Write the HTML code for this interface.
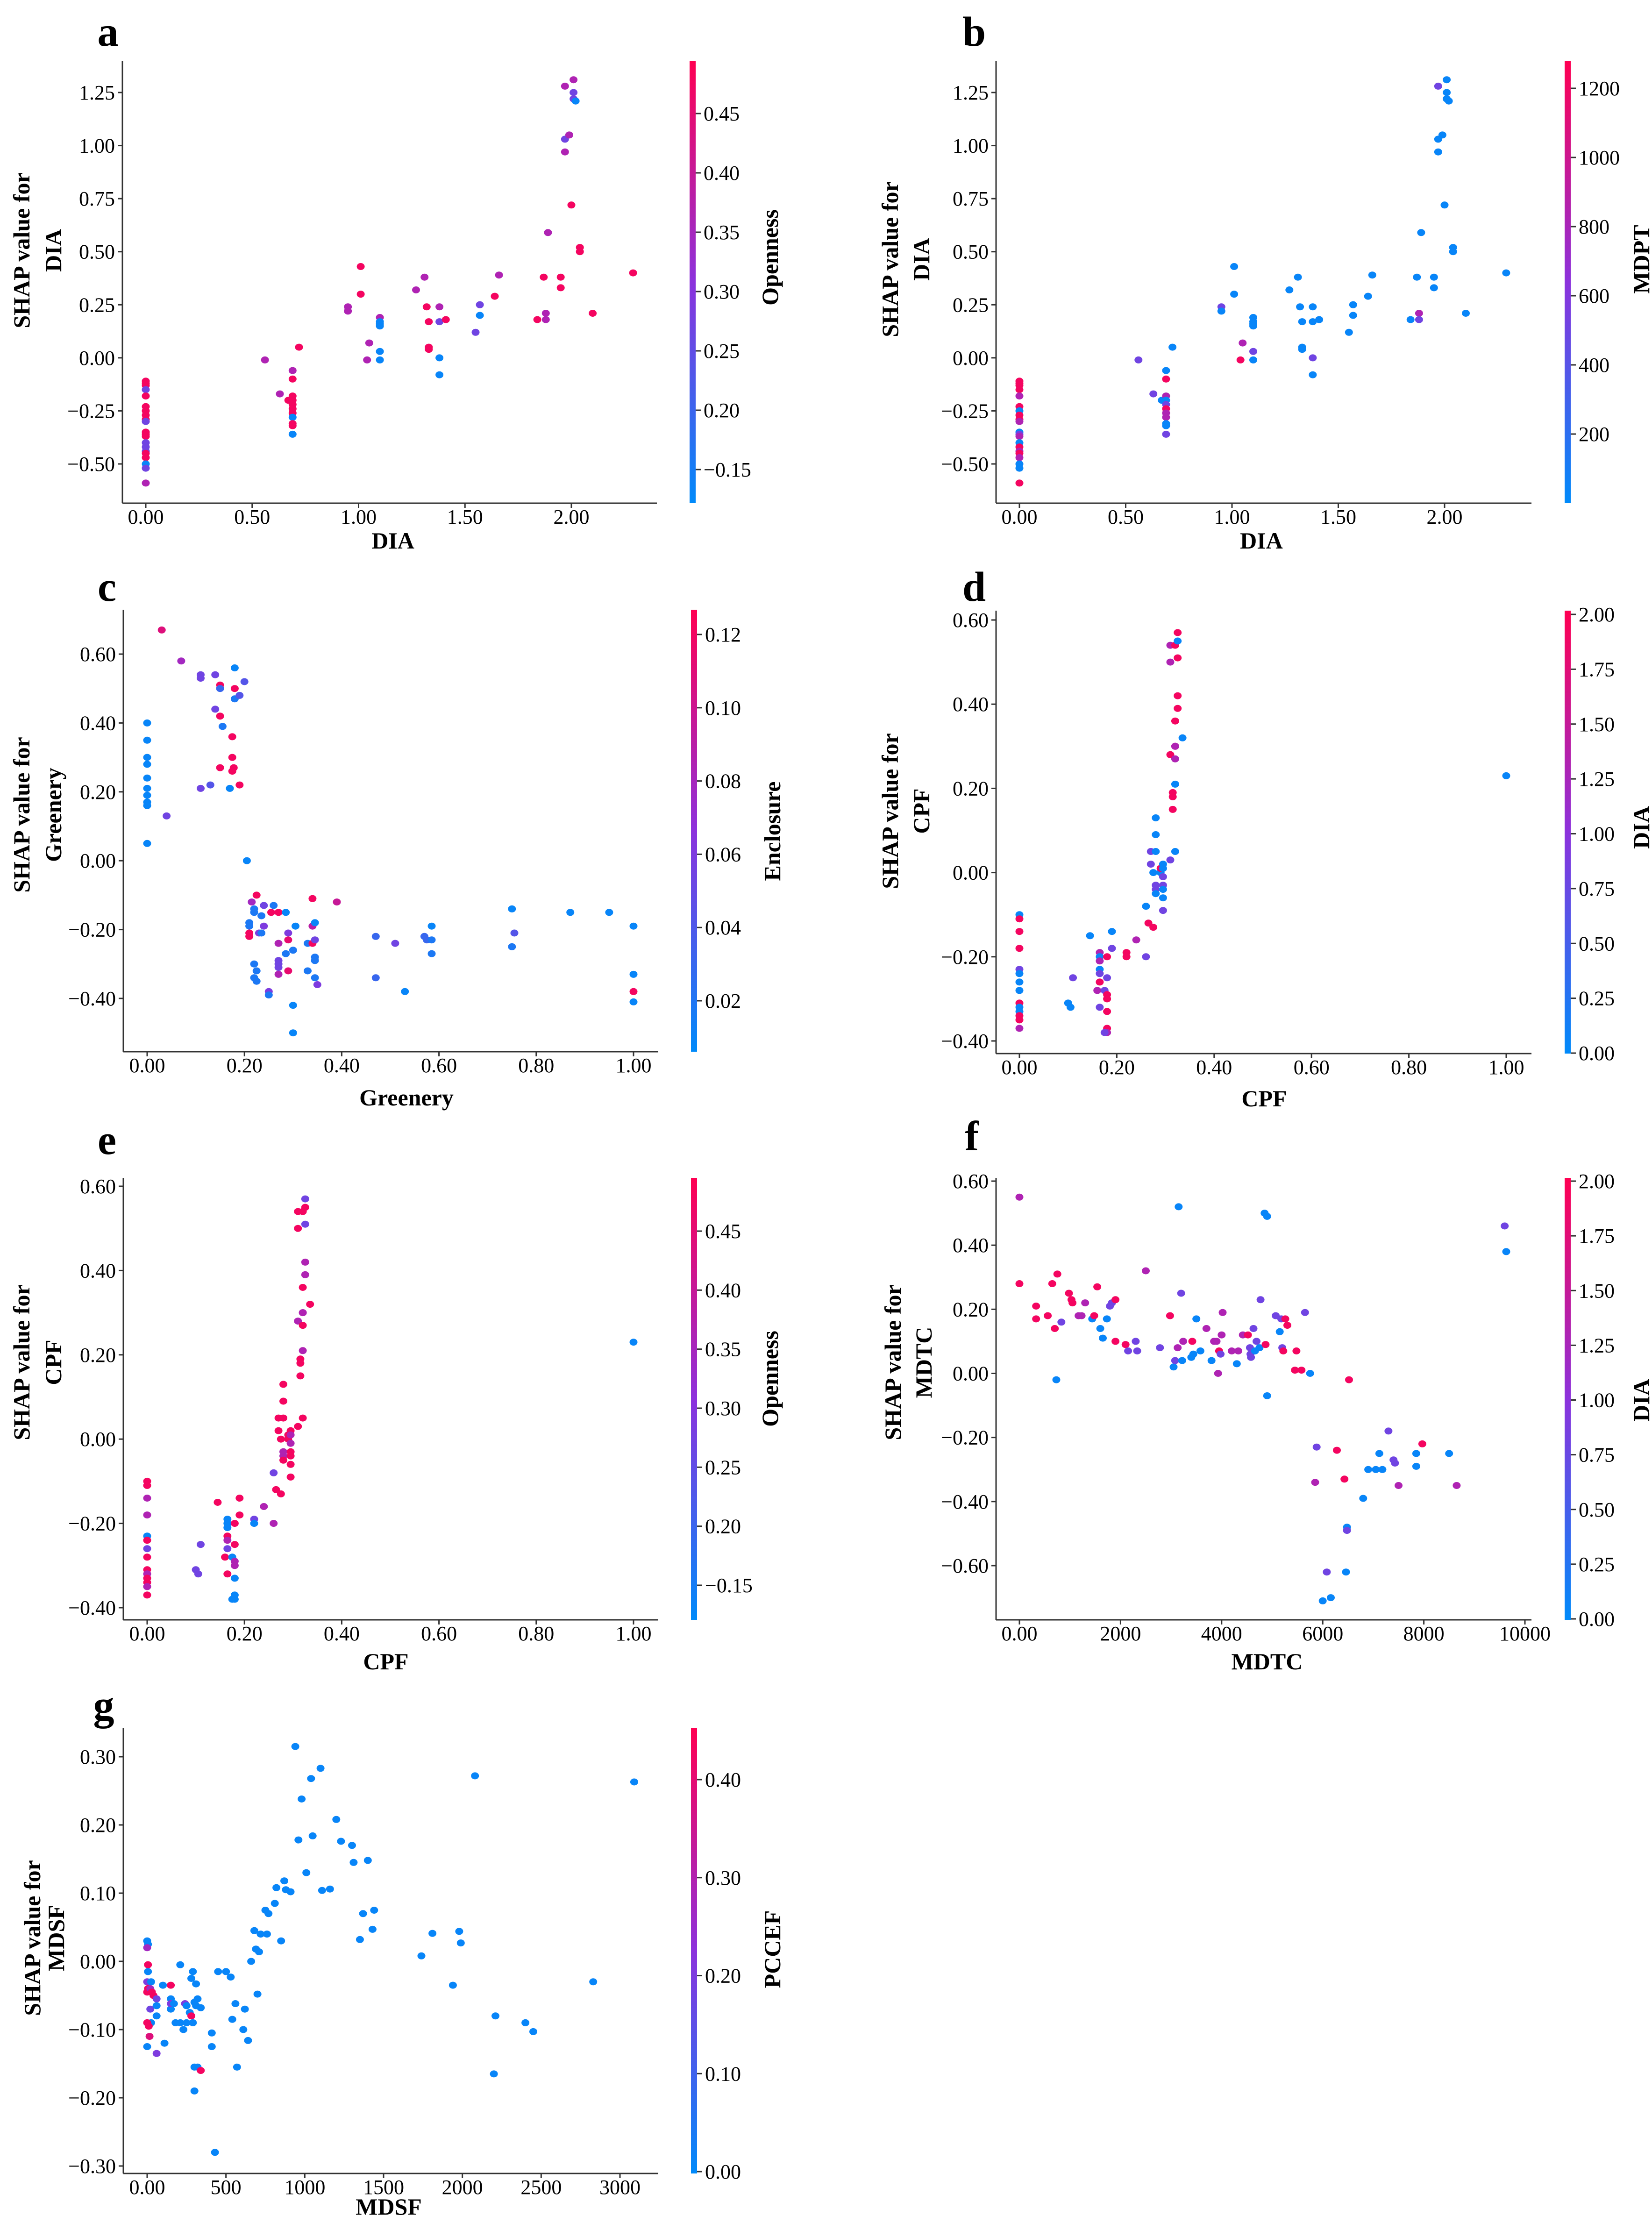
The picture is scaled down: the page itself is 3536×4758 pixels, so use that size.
<!DOCTYPE html>
<html><head><meta charset="utf-8">
<style>
html,body{margin:0;padding:0;background:#fff;}
svg{display:block;}
text{font-family:"Liberation Serif","DejaVu Serif",serif;fill:#000;}
.tk{font-size:44px;}
.lb{font-size:50px;font-weight:bold;}
.pl{font-size:90px;font-weight:bold;}
</style></head>
<body>
<svg id="fig" width="3536" height="4758" viewBox="0 0 3536 4758" xmlns="http://www.w3.org/2000/svg">
<defs>
<linearGradient id="cmap" x1="0" y1="1" x2="0" y2="0">
<stop offset="0" stop-color="rgb(0,138,250)"/>
<stop offset="0.5" stop-color="rgb(140,50,220)"/>
<stop offset="1" stop-color="rgb(255,0,82)"/>
</linearGradient>
</defs>
<g>
<text class="pl" x="231" y="98" text-anchor="middle">a</text>
<text class="pl" x="2085" y="98" text-anchor="middle">b</text>
<text class="pl" x="229" y="1286" text-anchor="middle">c</text>
<text class="pl" x="2085" y="1286" text-anchor="middle">d</text>
<text class="pl" x="229" y="2470" text-anchor="middle">e</text>
<text class="pl" x="2080" y="2462" text-anchor="middle">f</text>
<text class="pl" x="222" y="3680" text-anchor="middle">g</text>
</g>
<g>
<text class="lb" x="841" y="1174" text-anchor="middle">DIA</text>
<text class="lb" x="2700" y="1174" text-anchor="middle">DIA</text>
<text class="lb" x="870" y="2366" text-anchor="middle">Greenery</text>
<text class="lb" x="2706" y="2368" text-anchor="middle">CPF</text>
<text class="lb" x="826" y="3573" text-anchor="middle">CPF</text>
<text class="lb" x="2712" y="3573" text-anchor="middle">MDTC</text>
<text class="lb" x="832" y="4740" text-anchor="middle">MDSF</text>

<text class="lb" transform="translate(63,536) rotate(-90)" text-anchor="middle">SHAP value for</text>
<text class="lb" transform="translate(131,536) rotate(-90)" text-anchor="middle">DIA</text>
<text class="lb" transform="translate(1922,555) rotate(-90)" text-anchor="middle">SHAP value for</text>
<text class="lb" transform="translate(1989,555) rotate(-90)" text-anchor="middle">DIA</text>
<text class="lb" transform="translate(63,1744) rotate(-90)" text-anchor="middle">SHAP value for</text>
<text class="lb" transform="translate(131,1744) rotate(-90)" text-anchor="middle">Greenery</text>
<text class="lb" transform="translate(1922,1736) rotate(-90)" text-anchor="middle">SHAP value for</text>
<text class="lb" transform="translate(1989,1736) rotate(-90)" text-anchor="middle">CPF</text>
<text class="lb" transform="translate(63,2916) rotate(-90)" text-anchor="middle">SHAP value for</text>
<text class="lb" transform="translate(131,2916) rotate(-90)" text-anchor="middle">CPF</text>
<text class="lb" transform="translate(1928,2916) rotate(-90)" text-anchor="middle">SHAP value for</text>
<text class="lb" transform="translate(1994,2916) rotate(-90)" text-anchor="middle">MDTC</text>
<text class="lb" transform="translate(86,4148) rotate(-90)" text-anchor="middle">SHAP value for</text>
<text class="lb" transform="translate(137,4148) rotate(-90)" text-anchor="middle">MDSF</text>

<text class="lb" transform="translate(1665,551) rotate(-90)" text-anchor="middle">Openness</text>
<text class="lb" transform="translate(3530,555) rotate(-90)" text-anchor="middle">MDPT</text>
<text class="lb" transform="translate(1670,1779) rotate(-90)" text-anchor="middle">Enclosure</text>
<text class="lb" transform="translate(3530,1771) rotate(-90)" text-anchor="middle">DIA</text>
<text class="lb" transform="translate(1665,2951) rotate(-90)" text-anchor="middle">Openness</text>
<text class="lb" transform="translate(3530,2997) rotate(-90)" text-anchor="middle">DIA</text>
<text class="lb" transform="translate(1670,4172) rotate(-90)" text-anchor="middle">PCCEF</text>
</g>
<g id="plots"></g>
</svg>
<script>
// ---- panel a / b (DIA) ----
const abDIA = [0,0,0,0,0,0,0,0,0,0,0,0,0,0,0,0,0,0,0,0,0,0.56,0.63,0.67,0.69,0.69,0.69,0.69,0.69,0.69,0.69,0.69,0.69,0.69,0.69,0.72,0.95,0.95,1.01,1.01,1.04,1.05,1.10,1.10,1.10,1.10,1.10,1.10,1.27,1.31,1.32,1.33,1.33,1.33,1.38,1.38,1.38,1.38,1.41,1.55,1.57,1.57,1.64,1.66,1.84,1.87,1.88,1.88,1.89,1.95,1.95,1.97,1.97,1.97,1.99,2.00,2.01,2.01,2.01,2.02,2.04,2.04,2.10,2.29];
const abSHAP = [-0.11,-0.12,-0.13,-0.15,-0.18,-0.23,-0.25,-0.27,-0.29,-0.30,-0.35,-0.36,-0.37,-0.40,-0.42,-0.44,-0.45,-0.47,-0.50,-0.52,-0.59,-0.01,-0.17,-0.20,-0.06,-0.10,-0.18,-0.20,-0.22,-0.24,-0.26,-0.28,-0.31,-0.32,-0.36,0.05,0.24,0.22,0.43,0.30,-0.01,0.07,0.19,0.17,0.16,0.15,0.03,-0.01,0.32,0.38,0.24,0.17,0.05,0.04,0.24,0.17,0.00,-0.08,0.18,0.12,0.25,0.20,0.29,0.39,0.18,0.38,0.21,0.18,0.59,0.38,0.33,1.28,1.03,0.97,1.05,0.72,1.31,1.25,1.22,1.21,0.52,0.50,0.21,0.40];
const aOpenness = [0.95,0.95,0.95,0.4,0.95,0.95,0.95,0.95,0.95,0.4,0.95,0.95,0.95,0.4,0.4,0.4,0.95,0.95,0.03,0.4,0.65,0.65,0.65,0.95,0.65,0.95,0.95,0.95,0.95,0.95,0.95,0.03,0.95,0.95,0.03,0.95,0.65,0.65,0.95,0.95,0.65,0.65,0.65,0.03,0.03,0.03,0.03,0.03,0.65,0.65,0.95,0.95,0.95,0.95,0.65,0.4,0.03,0.03,0.95,0.4,0.4,0.03,0.95,0.65,0.95,0.95,0.65,0.65,0.65,0.95,0.95,0.65,0.4,0.65,0.65,0.95,0.65,0.4,0.4,0.03,0.95,0.95,0.95,0.95];
const bMDPT = [0.95,0.95,0.95,0.95,0.65,0.95,0.03,0.95,0.95,0.65,0.03,0.4,0.65,0.03,0.95,0.65,0.95,0.65,0.03,0.03,0.95,0.4,0.4,0.03,0.03,0.95,0.65,0.03,0.4,0.95,0.65,0.65,0.03,0.03,0.4,0.03,0.4,0.03,0.03,0.03,0.95,0.65,0.03,0.03,0.03,0.03,0.4,0.03,0.03,0.03,0.03,0.03,0.03,0.03,0.03,0.03,0.4,0.03,0.03,0.03,0.03,0.03,0.03,0.03,0.03,0.03,0.65,0.4,0.03,0.03,0.03,0.4,0.03,0.03,0.03,0.03,0.03,0.03,0.03,0.03,0.03,0.03,0.03,0.03];
// ---- panel c (Greenery) ----
const cGreenery = [0,0,0,0,0,0,0,0,0,0,0.03,0.04,0.07,0.11,0.11,0.11,0.13,0.14,0.14,0.15,0.15,0.15,0.15,0.155,0.17,0.175,0.175,0.175,0.178,0.18,0.18,0.18,0.19,0.19,0.20,0.205,0.21,0.21,0.21,0.21,0.215,0.22,0.22,0.22,0.22,0.225,0.225,0.225,0.23,0.235,0.235,0.24,0.24,0.25,0.25,0.255,0.26,0.27,0.27,0.27,0.27,0.27,0.27,0.285,0.285,0.29,0.29,0.29,0.30,0.30,0.30,0.305,0.33,0.33,0.34,0.34,0.34,0.345,0.345,0.345,0.345,0.345,0.35,0.39,0.47,0.47,0.51,0.53,0.57,0.575,0.585,0.585,0.585,0.75,0.75,0.755,0.87,0.95,1.0,1.0,1.0,1.0];
const cSHAP = [0.40,0.35,0.30,0.28,0.24,0.21,0.19,0.17,0.16,0.05,0.67,0.13,0.58,0.54,0.53,0.21,0.22,0.54,0.44,0.51,0.50,0.42,0.27,0.39,0.21,0.36,0.30,0.26,0.27,0.56,0.50,0.47,0.48,0.22,0.52,0.00,-0.19,-0.18,-0.21,-0.22,-0.12,-0.15,-0.14,-0.30,-0.34,-0.32,-0.35,-0.10,-0.21,-0.16,-0.21,-0.13,-0.19,-0.38,-0.39,-0.15,-0.13,-0.15,-0.24,-0.29,-0.30,-0.31,-0.33,-0.15,-0.27,-0.21,-0.23,-0.32,-0.26,-0.42,-0.50,-0.19,-0.24,-0.32,-0.11,-0.19,-0.24,-0.18,-0.23,-0.28,-0.29,-0.34,-0.36,-0.12,-0.22,-0.34,-0.24,-0.38,-0.22,-0.23,-0.19,-0.23,-0.27,-0.14,-0.25,-0.21,-0.15,-0.15,-0.19,-0.33,-0.38,-0.41];
const cEnclosure = [0.03,0.03,0.03,0.03,0.03,0.03,0.03,0.03,0.03,0.03,0.85,0.4,0.6,0.4,0.4,0.4,0.3,0.4,0.4,0.95,0.2,0.95,0.95,0.1,0.03,0.95,0.95,0.95,0.95,0.03,0.95,0.1,0.3,0.95,0.3,0.03,0.1,0.1,0.95,0.95,0.6,0.1,0.1,0.1,0.1,0.1,0.1,0.95,0.45,0.1,0.1,0.4,0.45,0.45,0.1,0.95,0.1,0.95,0.65,0.4,0.4,0.4,0.65,0.03,0.1,0.45,0.9,0.9,0.1,0.03,0.03,0.03,0.1,0.1,0.95,0.7,0.95,0.03,0.4,0.1,0.1,0.1,0.45,0.75,0.2,0.2,0.4,0.03,0.2,0.2,0.03,0.1,0.1,0.03,0.1,0.3,0.03,0.03,0.03,0.03,0.95,0.03];
// ---- panels d / e (CPF) ----
const deCPF = [0,0,0,0,0,0,0,0,0,0,0,0,0,0,0.10,0.105,0.11,0.145,0.16,0.165,0.165,0.165,0.165,0.165,0.165,0.165,0.175,0.18,0.18,0.18,0.18,0.18,0.18,0.18,0.175,0.19,0.19,0.22,0.22,0.24,0.26,0.26,0.265,0.27,0.27,0.275,0.275,0.28,0.28,0.28,0.28,0.28,0.28,0.29,0.29,0.295,0.295,0.295,0.295,0.295,0.295,0.295,0.31,0.31,0.31,0.31,0.315,0.315,0.315,0.32,0.32,0.32,0.32,0.32,0.32,0.32,0.325,0.325,0.325,0.325,0.325,0.335,1.0];
const deSHAP = [-0.10,-0.11,-0.14,-0.18,-0.23,-0.24,-0.26,-0.28,-0.31,-0.32,-0.33,-0.34,-0.35,-0.37,-0.31,-0.32,-0.25,-0.15,-0.28,-0.19,-0.20,-0.21,-0.23,-0.24,-0.26,-0.32,-0.28,-0.20,-0.25,-0.29,-0.30,-0.33,-0.37,-0.38,-0.38,-0.14,-0.18,-0.19,-0.20,-0.16,-0.08,-0.20,-0.12,0.05,0.02,-0.13,0.00,0.13,0.09,0.05,-0.04,-0.05,-0.03,0.00,0.01,0.02,0.01,-0.01,-0.03,-0.04,-0.06,-0.09,0.54,0.50,0.28,0.03,0.18,0.15,0.19,0.54,0.36,0.30,0.30,0.27,0.21,0.05,0.57,0.55,0.51,0.42,0.39,0.32,0.23];
const dDIA = [0.03,0.95,0.95,0.95,0.4,0.03,0.03,0.03,0.95,0.03,0.03,0.95,0.95,0.65,0.03,0.03,0.4,0.03,0.65,0.65,0.03,0.65,0.03,0.4,0.95,0.4,0.4,0.95,0.4,0.95,0.95,0.95,0.95,0.65,0.4,0.03,0.4,0.95,0.95,0.65,0.03,0.4,0.95,0.4,0.4,0.95,0.03,0.03,0.03,0.03,0.4,0.03,0.4,0.03,0.95,0.03,0.03,0.4,0.4,0.03,0.03,0.4,0.65,0.65,0.95,0.4,0.95,0.95,0.95,0.95,0.95,0.95,0.65,0.65,0.03,0.03,0.95,0.03,0.95,0.95,0.95,0.03,0.03];
const eOpenness = [0.95,0.95,0.65,0.65,0.03,0.95,0.4,0.95,0.95,0.65,0.95,0.95,0.65,0.95,0.4,0.4,0.4,0.95,0.95,0.03,0.03,0.03,0.95,0.65,0.4,0.95,0.03,0.95,0.95,0.65,0.65,0.03,0.03,0.03,0.03,0.95,0.95,0.4,0.03,0.65,0.4,0.65,0.95,0.95,0.95,0.95,0.95,0.95,0.95,0.95,0.65,0.95,0.65,0.95,0.95,0.95,0.65,0.65,0.95,0.95,0.95,0.95,0.95,0.95,0.65,0.95,0.95,0.95,0.95,0.95,0.95,0.65,0.65,0.95,0.65,0.95,0.4,0.95,0.4,0.65,0.65,0.95,0.03];
// ---- panel f (MDTC) ----
const fMDTC = [0,0,330,330,560,650,700,750,730,830,980,1030,1050,1170,1230,1300,1440,1480,1540,1600,1650,1730,1790,1830,1900,1900,2100,2150,2300,2330,2500,2780,2980,3050,3080,3130,3150,3200,3220,3240,3400,3420,3440,3500,3580,3700,3800,3850,3900,3930,3950,3980,4000,4020,4200,4300,4330,4420,4520,4560,4570,4580,4630,4660,4690,4750,4770,4850,4870,4900,4900,5070,5150,5180,5200,5220,5260,5300,5450,5480,5580,5650,5750,5850,5880,6000,6080,6160,6280,6430,6460,6480,6480,6520,6800,6900,7050,7120,7180,7300,7400,7430,7500,7850,7850,7970,8500,8650,9600,9630];
const fSHAP = [0.55,0.28,0.21,0.17,0.18,0.28,0.14,0.31,-0.02,0.16,0.25,0.23,0.22,0.18,0.18,0.22,0.17,0.18,0.27,0.14,0.11,0.17,0.21,0.22,0.23,0.10,0.09,0.07,0.10,0.07,0.32,0.08,0.18,0.02,0.04,0.08,0.52,0.25,0.04,0.10,0.05,0.10,0.06,0.17,0.07,0.14,0.04,0.10,0.10,0.00,0.07,0.06,0.12,0.19,0.07,0.03,0.07,0.12,0.12,0.08,0.06,0.05,0.14,0.07,0.10,0.08,0.23,0.50,0.09,0.49,-0.07,0.18,0.13,0.17,0.08,0.07,0.17,0.15,0.01,0.07,0.01,0.19,0.00,-0.34,-0.23,-0.71,-0.62,-0.70,-0.24,-0.33,-0.62,-0.48,-0.49,-0.02,-0.39,-0.30,-0.30,-0.25,-0.30,-0.18,-0.27,-0.28,-0.35,-0.25,-0.29,-0.22,-0.25,-0.35,0.46,0.38];
const fDIA = [0.65,0.95,0.95,0.95,0.95,0.95,0.95,0.95,0.03,0.4,0.95,0.95,0.95,0.65,0.65,0.65,0.03,0.95,0.95,0.03,0.03,0.03,0.4,0.4,0.95,0.95,0.95,0.4,0.4,0.4,0.65,0.4,0.95,0.03,0.4,0.65,0.03,0.4,0.03,0.65,0.03,0.95,0.03,0.03,0.03,0.65,0.03,0.65,0.65,0.65,0.95,0.4,0.65,0.65,0.65,0.03,0.65,0.65,0.95,0.4,0.4,0.4,0.4,0.03,0.4,0.03,0.4,0.03,0.95,0.03,0.03,0.4,0.03,0.4,0.4,0.95,0.95,0.95,0.95,0.95,0.95,0.4,0.03,0.65,0.4,0.03,0.4,0.03,0.95,0.95,0.03,0.03,0.4,0.95,0.03,0.03,0.03,0.03,0.03,0.4,0.4,0.4,0.65,0.03,0.03,0.95,0.03,0.65,0.4,0.03];
// ---- panel g (MDSF) ----
const gMDSF = [0,5,0,5,5,0,0,5,20,25,30,40,60,20,60,60,25,0,10,15,0,60,100,110,150,150,150,150,170,180,210,210,230,240,250,250,270,280,280,290,290,300,310,310,320,300,320,340,300,340,410,410,430,450,500,530,540,560,570,610,620,640,660,680,690,700,710,720,750,760,770,810,820,850,870,880,910,940,960,980,1010,1040,1050,1100,1110,1160,1200,1230,1300,1310,1350,1370,1400,1430,1440,1740,1810,1940,1980,1990,2080,2200,2210,2400,2450,2830,3090];
const gSHAP = [0.03,0.025,0.02,-0.005,-0.015,-0.03,-0.045,-0.04,-0.04,-0.03,-0.045,-0.05,-0.055,-0.07,-0.065,-0.08,-0.09,-0.09,-0.095,-0.11,-0.125,-0.135,-0.035,-0.12,-0.035,-0.055,-0.07,-0.062,-0.062,-0.09,-0.005,-0.09,-0.10,-0.062,-0.065,-0.09,-0.075,-0.08,-0.025,-0.015,-0.09,-0.06,-0.033,-0.065,-0.055,-0.155,-0.155,-0.16,-0.19,-0.068,-0.105,-0.125,-0.28,-0.015,-0.015,-0.023,-0.085,-0.062,-0.155,-0.10,-0.07,-0.116,0.00,0.045,0.018,-0.048,0.014,0.04,0.075,0.04,0.07,0.085,0.108,0.03,0.118,0.105,0.102,0.315,0.178,0.238,0.13,0.268,0.184,0.283,0.104,0.106,0.208,0.176,0.17,0.145,0.032,0.07,0.148,0.047,0.075,0.008,0.041,-0.035,0.044,0.027,0.272,-0.165,-0.08,-0.09,-0.103,-0.03,0.263];
const gPCCEF = [0.03,0.03,0.6,0.95,0.03,0.45,0.95,0.95,0.6,0.03,0.95,0.95,0.4,0.4,0.03,0.03,0.03,0.95,0.95,0.85,0.03,0.45,0.03,0.03,0.95,0.03,0.03,0.45,0.03,0.03,0.03,0.03,0.03,0.45,0.03,0.03,0.03,0.95,0.03,0.03,0.03,0.03,0.03,0.03,0.03,0.03,0.03,0.95,0.03,0.03,0.03,0.03,0.03,0.03,0.03,0.03,0.03,0.03,0.03,0.03,0.03,0.03,0.03,0.03,0.03,0.03,0.03,0.03,0.03,0.03,0.03,0.03,0.03,0.03,0.03,0.03,0.03,0.03,0.03,0.03,0.03,0.03,0.03,0.03,0.03,0.03,0.03,0.03,0.03,0.03,0.03,0.03,0.03,0.03,0.03,0.03,0.03,0.03,0.03,0.03,0.03,0.03,0.03,0.03,0.03,0.03,0.03];
// ---- tick values and labels ----
const abXTicks = [0,0.5,1,1.5,2];
const abXLabels = ["0.00","0.50","1.00","1.50","2.00"];
const abYTicks = [1.25,1,0.75,0.5,0.25,0,-0.25,-0.5];
const abYLabels = ["1.25","1.00","0.75","0.50","0.25","0.00","\u22120.25","\u22120.50"];
const unitXTicks = [0,0.2,0.4,0.6,0.8,1];
const unitXLabels = ["0.00","0.20","0.40","0.60","0.80","1.00"];
const cdeYTicks = [0.6,0.4,0.2,0,-0.2,-0.4];
const cdeYLabels = ["0.60","0.40","0.20","0.00","\u22120.20","\u22120.40"];
const fXTicks = [0,2000,4000,6000,8000,10000];
const fXLabels = ["0.00","2000","4000","6000","8000","10000"];
const fYTicks = [0.6,0.4,0.2,0,-0.2,-0.4,-0.6];
const fYLabels = ["0.60","0.40","0.20","0.00","\u22120.20","\u22120.40","\u22120.60"];
const gXTicks = [0,500,1000,1500,2000,2500,3000];
const gXLabels = ["0.00","500","1000","1500","2000","2500","3000"];
const gYTicks = [0.3,0.2,0.1,0,-0.1,-0.2,-0.3];
const gYLabels = ["0.30","0.20","0.10","0.00","\u22120.10","\u22120.20","\u22120.30"];
const opennessTicks = [0.45,0.40,0.35,0.30,0.25,0.20,0.15];
const opennessLabels = ["0.45","0.40","0.35","0.30","0.25","0.20","\u22120.15"];
const mdptTicks = [1200,1000,800,600,400,200];
const mdptLabels = ["1200","1000","800","600","400","200"];
const enclosureTicks = [0.12,0.10,0.08,0.06,0.04,0.02];
const enclosureLabels = ["0.12","0.10","0.08","0.06","0.04","0.02"];
const diaTicks = [2,1.75,1.5,1.25,1,0.75,0.5,0.25,0];
const diaLabels = ["2.00","1.75","1.50","1.25","1.00","0.75","0.50","0.25","0.00"];
const pccefTicks = [0.4,0.3,0.2,0.1,0];
const pccefLabels = ["0.40","0.30","0.20","0.10","0.00"];

const NS = "http://www.w3.org/2000/svg";
const root = document.getElementById('plots');
function mk(tag, attrs, parent){
  const e = document.createElementNS(NS, tag);
  for (const k in attrs) e.setAttribute(k, attrs[k]);
  parent.appendChild(e);
  return e;
}
function col(t){
  const s0=[0,138,250], s1=[140,50,220], s2=[255,0,82];
  let a,b,u;
  if (t<=0.5){a=s0;b=s1;u=t/0.5;} else {a=s1;b=s2;u=(t-0.5)/0.5;}
  return 'rgb('+a.map((v,i)=>Math.round(v+(b[i]-v)*u)).join(',')+')';
}
function lin(d0,d1,r0,r1){ return v => r0 + (v-d0)*(r1-r0)/(d1-d0); }

const panels = [
 {id:'a', xs:abDIA, ys:abSHAP, cs:aOpenness, L:262,R:1406,T:130,B:1077, sx:lin(0,2,312,1223), sy:lin(1.25,-0.5,198,993), xt:abXTicks, xl:abXLabels, yt:abYTicks, yl:abYLabels, cbx:1476, cby:lin(0.45,0.15,243,1005), ct:opennessTicks, cl:opennessLabels},
 {id:'b', xs:abDIA, ys:abSHAP, cs:bMDPT, L:2132,R:3278,T:130,B:1077, sx:lin(0,2,2182,3092), sy:lin(1.25,-0.5,198,993), xt:abXTicks, xl:abXLabels, yt:abYTicks, yl:abYLabels, cbx:3349, cby:lin(1200,200,189,929), ct:mdptTicks, cl:mdptLabels},
 {id:'c', xs:cGreenery, ys:cSHAP, cs:cEnclosure, L:264,R:1409,T:1305,B:2251, sx:lin(0,1,315,1356), sy:lin(0.6,-0.4,1400,2137), xt:unitXTicks, xl:unitXLabels, yt:cdeYTicks, yl:cdeYLabels, cbx:1479, cby:lin(0.12,0.02,1358,2142), ct:enclosureTicks, cl:enclosureLabels},
 {id:'d', xs:deCPF, ys:deSHAP, cs:dDIA, L:2132,R:3278,T:1307,B:2255, sx:lin(0,1,2182,3224), sy:lin(0.6,-0.4,1327,2228), xt:unitXTicks, xl:unitXLabels, yt:cdeYTicks, yl:cdeYLabels, cbx:3349, cby:lin(2,0,1315,2254), ct:diaTicks, cl:diaLabels},
 {id:'e', xs:deCPF, ys:deSHAP, cs:eOpenness, L:264,R:1409,T:2521,B:3467, sx:lin(0,1,315,1356), sy:lin(0.6,-0.4,2539,3441), xt:unitXTicks, xl:unitXLabels, yt:cdeYTicks, yl:cdeYLabels, cbx:1479, cby:lin(0.45,0.15,2635,3393), ct:opennessTicks, cl:opennessLabels},
 {id:'f', xs:fMDTC, ys:fSHAP, cs:fDIA, L:2132,R:3278,T:2521,B:3467, sx:lin(0,10000,2182,3264), sy:lin(0.6,-0.6,2528,3351), xt:fXTicks, xl:fXLabels, yt:fYTicks, yl:fYLabels, cbx:3349, cby:lin(2,0,2528,3465), ct:diaTicks, cl:diaLabels},
 {id:'g', xs:gMDSF, ys:gSHAP, cs:gPCCEF, L:264,R:1409,T:3698,B:4652, sx:lin(0,3000,315,1327), sy:lin(0.3,-0.3,3760,4636), xt:gXTicks, xl:gXLabels, yt:gYTicks, yl:gYLabels, cbx:1479, cby:lin(0.4,0,3809,4648), ct:pccefTicks, cl:pccefLabels}
];

panels.forEach(p => {
  const g = mk('g', {}, root);
  
  
  const pts = mk('g', {}, g);
  
  
  for (let i=0;i<p.xs.length;i++){
    const c = mk('ellipse', {cx:p.sx(p.xs[i]).toFixed(1), cy:p.sy(p.ys[i]).toFixed(1), rx:8.5, ry:7.5, fill:col(p.cs[i])}, pts);
    
    
  }
  const ax = mk('g', {stroke:'#333','stroke-width':3}, g);
  
  
  mk('line', {x1:p.L, y1:p.T, x2:p.L, y2:p.B}, ax);
  mk('line', {x1:p.L, y1:p.B, x2:p.R, y2:p.B}, ax);
  p.xt.forEach((v,i) => {
    const x = p.sx(v);
    mk('line', {x1:x, y1:p.B, x2:x, y2:p.B+10}, ax);
    const t = mk('text', {x:x, y:p.B+44, 'text-anchor':'middle', class:'tk'}, g);
    t.textContent = p.xl[i];
    
    
  });
  p.yt.forEach((v,i) => {
    const y = p.sy(v);
    mk('line', {x1:p.L-10, y1:y, x2:p.L, y2:y}, ax);
    const t = mk('text', {x:p.L-16, y:y+15, 'text-anchor':'end', class:'tk'}, g);
    t.textContent = p.yl[i];
    
    
  });
  const cb = mk('rect', {x:p.cbx, y:p.T, width:13, height:p.B-p.T, fill:'url(#cmap)'}, g);
  
  
  p.ct.forEach((v,i) => {
    const y = p.cby(v);
    mk('line', {x1:p.cbx+13, y1:y, x2:p.cbx+24, y2:y, stroke:'#333','stroke-width':3}, g);
    const t = mk('text', {x:p.cbx+30, y:y+15, class:'tk'}, g);
    t.textContent = p.cl[i];
    
    
  });
});
</script>
</body></html>
